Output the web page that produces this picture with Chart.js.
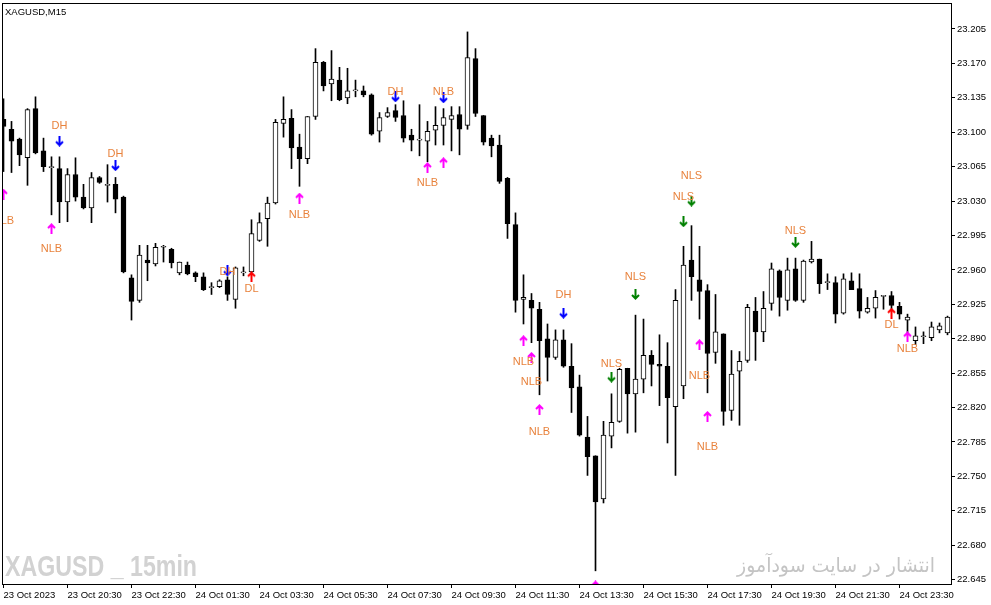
<!DOCTYPE html>
<html>
<head>
<meta charset="utf-8">
<script src="https://cdn.jsdelivr.net/npm/chart.js@4.4.0/dist/chart.umd.min.js"></script>
<style>
  html, body { margin: 0; padding: 0; background: #fff; }
  #wrap { width: 991px; height: 605px; position: relative; }
</style>
</head>
<body>
<div id="wrap"><canvas id="chart"></canvas></div>
<script>
// XAGUSD M15 candles, bar index 0..118
const opens = [
  23.113, 23.103, 23.093, 23.074, 23.124, 23.081, 23.064, 23.063, 23.029, 23.057,
  23.034, 23.023, 23.054, 23.046, 23.047, 23.034, 22.952, 22.929, 22.970, 22.966,
  22.983, 22.981, 22.957, 22.965, 22.957, 22.953, 22.942, 22.943, 22.950, 22.930,
  22.957, 22.958, 22.990, 23.012, 23.028, 23.109, 23.114, 23.085, 23.073, 23.116,
  23.171, 23.149, 23.153, 23.135, 23.142, 23.142, 23.138, 23.101, 23.116, 23.122,
  23.117, 23.097, 23.092, 23.091, 23.102, 23.107, 23.113, 23.118, 23.107, 23.175,
  23.117, 23.094, 23.087, 23.053, 23.006, 22.930, 22.929, 22.920, 22.890, 22.871,
  22.889, 22.862, 22.841, 22.790, 22.771, 22.727, 22.791, 22.806, 22.860, 22.834,
  22.849, 22.873, 22.864, 22.862, 22.821, 22.842, 22.970, 22.950, 22.939, 22.876,
  22.895, 22.817, 22.857, 22.868, 22.918, 22.897, 22.926, 22.959, 22.929, 22.961,
  22.929, 22.968, 22.971, 22.947, 22.947, 22.916, 22.949, 22.941, 22.917, 22.921,
  22.933, 22.934, 22.923, 22.909, 22.888, 22.892, 22.891, 22.899, 22.896
];
const highs = [
  23.134, 23.111, 23.094, 23.124, 23.136, 23.094, 23.075, 23.075, 23.063, 23.074,
  23.047, 23.059, 23.055, 23.067, 23.054, 23.035, 22.955, 22.985, 22.985, 22.987,
  22.985, 22.982, 22.968, 22.968, 22.958, 22.957, 22.947, 22.950, 22.953, 22.963,
  22.963, 23.011, 23.018, 23.034, 23.113, 23.136, 23.123, 23.098, 23.116, 23.185,
  23.172, 23.183, 23.166, 23.165, 23.153, 23.147, 23.139, 23.120, 23.125, 23.128,
  23.132, 23.103, 23.128, 23.111, 23.126, 23.124, 23.126, 23.126, 23.202, 23.185,
  23.117, 23.097, 23.097, 23.054, 23.018, 22.955, 22.936, 22.927, 22.905, 22.899,
  22.899, 22.885, 22.853, 22.811, 22.771, 22.806, 22.834, 22.860, 22.860, 22.914,
  22.910, 22.878, 22.894, 22.886, 22.940, 22.984, 23.005, 22.984, 22.945, 22.935,
  22.895, 22.878, 22.877, 22.925, 22.932, 22.938, 22.967, 22.960, 22.972, 22.972,
  22.970, 22.989, 22.971, 22.956, 22.953, 22.956, 22.957, 22.956, 22.932, 22.939,
  22.934, 22.938, 22.927, 22.915, 22.902, 22.897, 22.907, 22.906, 22.913
];
const lows = [
  23.060, 23.059, 23.066, 23.046, 23.078, 23.060, 23.016, 23.008, 23.009, 23.030,
  23.022, 23.008, 23.048, 23.029, 23.018, 22.957, 22.909, 22.927, 22.949, 22.964,
  22.968, 22.962, 22.955, 22.955, 22.948, 22.939, 22.935, 22.942, 22.929, 22.921,
  22.954, 22.955, 22.989, 22.984, 23.027, 23.095, 23.063, 23.045, 23.068, 23.113,
  23.142, 23.132, 23.132, 23.129, 23.136, 23.136, 23.097, 23.090, 23.115, 23.111,
  23.090, 23.081, 23.076, 23.070, 23.087, 23.087, 23.081, 23.077, 23.103, 23.116,
  23.087, 23.075, 23.048, 22.992, 22.917, 22.905, 22.886, 22.833, 22.847, 22.869,
  22.861, 22.815, 22.791, 22.751, 22.654, 22.723, 22.779, 22.805, 22.794, 22.795,
  22.835, 22.842, 22.822, 22.784, 22.751, 22.829, 22.929, 22.910, 22.835, 22.865,
  22.802, 22.807, 22.802, 22.866, 22.868, 22.887, 22.919, 22.913, 22.919, 22.928,
  22.927, 22.967, 22.936, 22.940, 22.906, 22.915, 22.940, 22.911, 22.916, 22.911,
  22.920, 22.920, 22.910, 22.894, 22.884, 22.885, 22.888, 22.896, 22.894
];
const closes = [
  23.106, 23.091, 23.077, 23.123, 23.079, 23.065, 23.065, 23.029, 23.057, 23.034,
  23.023, 23.054, 23.049, 23.046, 23.032, 22.958, 22.928, 22.975, 22.967, 22.983,
  22.984, 22.967, 22.968, 22.956, 22.953, 22.940, 22.942, 22.949, 22.935, 22.962,
  22.958, 22.997, 23.008, 23.028, 23.110, 23.113, 23.084, 23.073, 23.116, 23.171,
  23.147, 23.154, 23.133, 23.142, 23.143, 23.138, 23.098, 23.115, 23.120, 23.115,
  23.094, 23.092, 23.092, 23.101, 23.107, 23.115, 23.117, 23.103, 23.176, 23.119,
  23.090, 23.086, 23.050, 23.007, 22.929, 22.932, 22.921, 22.888, 22.871, 22.889,
  22.862, 22.840, 22.792, 22.770, 22.724, 22.792, 22.805, 22.859, 22.834, 22.849,
  22.873, 22.864, 22.862, 22.830, 22.929, 22.965, 22.953, 22.938, 22.875, 22.897,
  22.816, 22.854, 22.867, 22.922, 22.897, 22.921, 22.961, 22.932, 22.960, 22.929,
  22.969, 22.971, 22.946, 22.947, 22.915, 22.951, 22.940, 22.918, 22.921, 22.932,
  22.934, 22.924, 22.915, 22.912, 22.893, 22.892, 22.902, 22.903, 22.912
];

// time axis labels, one every 8 bars (2 hours)
const timeLabels = [
  '23 Oct 2023', '23 Oct 20:30', '23 Oct 22:30', '24 Oct 01:30', '24 Oct 03:30',
  '24 Oct 05:30', '24 Oct 07:30', '24 Oct 09:30', '24 Oct 11:30', '24 Oct 13:30',
  '24 Oct 15:30', '24 Oct 17:30', '24 Oct 19:30', '24 Oct 21:30', '24 Oct 23:30'
];
const priceTicks = [
  22.645, 22.680, 22.715, 22.750, 22.785, 22.820, 22.855, 22.890, 22.925,
  22.960, 22.995, 23.030, 23.065, 23.100, 23.135, 23.170, 23.205
];

// indicator signals: bar, arrow kind, arrow price, label, label price
const sigBar = [0, 6, 7, 14, 28, 31, 37, 49, 55, 53, 55, 65, 66, 67, 70, 74, 76, 79, 85, 86, 87, 88, 99, 111, 113];
const sigKind = ['buy', 'buy', 'dh', 'dh', 'dh', 'dl', 'buy', 'dh', 'dh', 'buy', 'buy', 'buy', 'buy', 'buy', 'dh',
                 'buy', 'sell', 'sell', 'sell', 'sell', 'buy', 'buy', 'sell', 'dl', 'buy'];
const sigArrowPrice = [23.037, 23.002, 23.091, 23.066, 22.959, 22.953, 23.033, 23.136, 23.135, 23.064, 23.069,
                       22.888, 22.871, 22.818, 22.916, 22.6386, 22.851, 22.935, 23.009, 23.030, 22.884, 22.811,
                       22.988, 22.916, 22.892];
const sigText = ['NLB', 'NLB', 'DH', 'DH', 'DH', 'DL', 'NLB', 'DH', 'NLB', 'NLB', '', 'NLB', 'NLB', 'NLB', 'DH',
                 '', 'NLS', 'NLS', 'NLS', 'NLS', 'NLB', 'NLB', 'NLS', 'DL', 'NLB'];
const sigTextPrice = [23.010, 22.981, 23.106, 23.078, 22.958, 22.941, 23.016, 23.141, 23.141, 23.048, null,
                      22.866, 22.846, 22.795, 22.934, null, 22.864, 22.953, 23.034, 23.056, 22.852, 22.780,
                      23.000, 22.904, 22.880];

const idx = opens.map((_, i) => i);

function makeArrow(color, up) {
  const c = document.createElement('canvas');
  c.width = 9; c.height = 11;
  const g = c.getContext('2d');
  g.strokeStyle = color;
  g.lineWidth = 2;
  g.beginPath();
  if (up) {
    g.moveTo(1, 5); g.lineTo(4.5, 1.5); g.lineTo(8, 5);
    g.moveTo(4.5, 2); g.lineTo(4.5, 11);
  } else {
    g.moveTo(1, 6); g.lineTo(4.5, 9.5); g.lineTo(8, 6);
    g.moveTo(4.5, 0); g.lineTo(4.5, 9);
  }
  g.stroke();
  return c;
}

const arrowStyle = {
  buy:  { color: '#ff00ff', up: true },
  dl:   { color: '#ff0000', up: true },
  dh:   { color: '#0000ff', up: false },
  sell: { color: '#008000', up: false }
};

const arrowSets = Object.keys(arrowStyle).map(kind => {
  const pts = [];
  sigBar.forEach((b, k) => { if (sigKind[k] === kind) pts.push({ x: b, y: sigArrowPrice[k] }); });
  return {
    type: 'scatter',
    data: pts,
    pointStyle: makeArrow(arrowStyle[kind].color, arrowStyle[kind].up),
    pointRadius: 6,
    clip: 0,
    order: 0
  };
});

const labelColor = '#e8823c';

const overlay = {
  id: 'overlay',
  beforeDatasetsDraw(chart) {
    const { ctx } = chart;
    ctx.save();
    // watermark left
    ctx.font = 'bold 30px "Liberation Sans Narrow", "Liberation Sans", sans-serif';
    ctx.fillStyle = '#d2d2d2';
    ctx.textBaseline = 'alphabetic';
    ctx.textAlign = 'left';
    let s = 'XAGUSD _ 15min';
    let w = ctx.measureText(s).width;
    ctx.save();
    ctx.translate(5, 576);
    ctx.scale(192 / w, 1);
    ctx.fillText(s, 0, 0);
    ctx.restore();
    // watermark right
    ctx.font = '20px "DejaVu Sans", serif';
    ctx.fillStyle = '#c4c4c4';
    s = 'انتشار در سایت سودآموز';
    w = ctx.measureText(s).width;
    ctx.save();
    ctx.translate(737, 572);
    ctx.scale(198 / w, 1);
    ctx.fillText(s, 0, 0);
    ctx.restore();
    ctx.restore();
  },
  afterDatasetsDraw(chart) {
    const { ctx, chartArea: a, scales } = chart;
    ctx.save();
    ctx.beginPath();
    ctx.rect(a.left, a.top, a.right - a.left, a.bottom - a.top);
    ctx.clip();
    ctx.font = '11px "Liberation Sans", Arial, sans-serif';
    ctx.fillStyle = labelColor;
    ctx.textAlign = 'center';
    ctx.textBaseline = 'middle';
    sigBar.forEach((b, k) => {
      if (!sigText[k]) return;
      ctx.fillText(sigText[k], scales.x.getPixelForValue(b), scales.y.getPixelForValue(sigTextPrice[k]));
    });
    ctx.restore();
  },
  afterDraw(chart) {
    const { ctx, chartArea: a } = chart;
    ctx.save();
    ctx.strokeStyle = '#000';
    ctx.lineWidth = 1;
    ctx.strokeRect(a.left + 0.5, a.top + 0.5, a.right - a.left, a.bottom - a.top);
    ctx.font = '9.5px "Liberation Sans", Arial, sans-serif';
    ctx.fillStyle = '#000';
    ctx.textBaseline = 'middle';
    ctx.fillText('XAGUSD,M15', 5, 12);
    ctx.restore();
  }
};

const axisFont = { family: '"Liberation Sans", Arial, sans-serif', size: 9.5 };

new Chart(document.getElementById('chart'), {
  type: 'bar',
  data: {
    datasets: [
      {
        label: 'body',
        data: idx.map(i => ({ x: i, y: [opens[i], closes[i]] })),
        backgroundColor: idx.map(i => closes[i] >= opens[i] ? '#ffffff' : '#000000'),
        borderColor: '#000',
        borderWidth: 1,
        borderSkipped: false,
        barThickness: 5,
        minBarLength: 1,
        grouped: false,
        clip: 0,
        order: 1
      },
      {
        label: 'wick',
        data: idx.map(i => ({ x: i, y: [lows[i], highs[i]] })),
        backgroundColor: '#000',
        borderWidth: 0,
        barThickness: 1,
        grouped: false,
        clip: 0,
        order: 2
      },
      ...arrowSets
    ]
  },
  options: {
    responsive: true,
    maintainAspectRatio: false,
    animation: false,
    events: [],
    layout: { autoPadding: false, padding: { left: 2, top: 3, right: 0, bottom: 0 } },
    plugins: { legend: { display: false }, tooltip: { enabled: false } },
    scales: {
      x: {
        type: 'linear',
        min: -0.1875,
        max: 118.4375,
        offset: false,
        bounds: 'data',
        afterBuildTicks: s => { s.ticks = timeLabels.map((_, k) => ({ value: k * 8 })); },
        afterFit: s => { s.height = 21; s.paddingLeft = 0; s.paddingRight = 0; },
        ticks: {
          callback: (v, k) => timeLabels[k],
          align: 'start',
          autoSkip: false,
          maxRotation: 0,
          padding: 2,
          color: '#000',
          font: axisFont
        },
        grid: { offset: false, drawOnChartArea: false, tickLength: 4, color: '#000' },
        border: { color: '#000' }
      },
      y: {
        position: 'right',
        min: 22.6406,
        max: 23.2314,
        bounds: 'data',
        afterBuildTicks: s => { s.ticks = priceTicks.map(v => ({ value: v })); },
        afterFit: s => { s.width = 40; s.paddingTop = 0; s.paddingBottom = 0; },
        ticks: {
          callback: v => v.toFixed(3),
          autoSkip: false,
          padding: 2,
          color: '#000',
          font: axisFont
        },
        grid: { drawOnChartArea: false, tickLength: 4, color: '#000' },
        border: { color: '#000' }
      }
    }
  },
  plugins: [overlay]
});
</script>
</body>
</html>
